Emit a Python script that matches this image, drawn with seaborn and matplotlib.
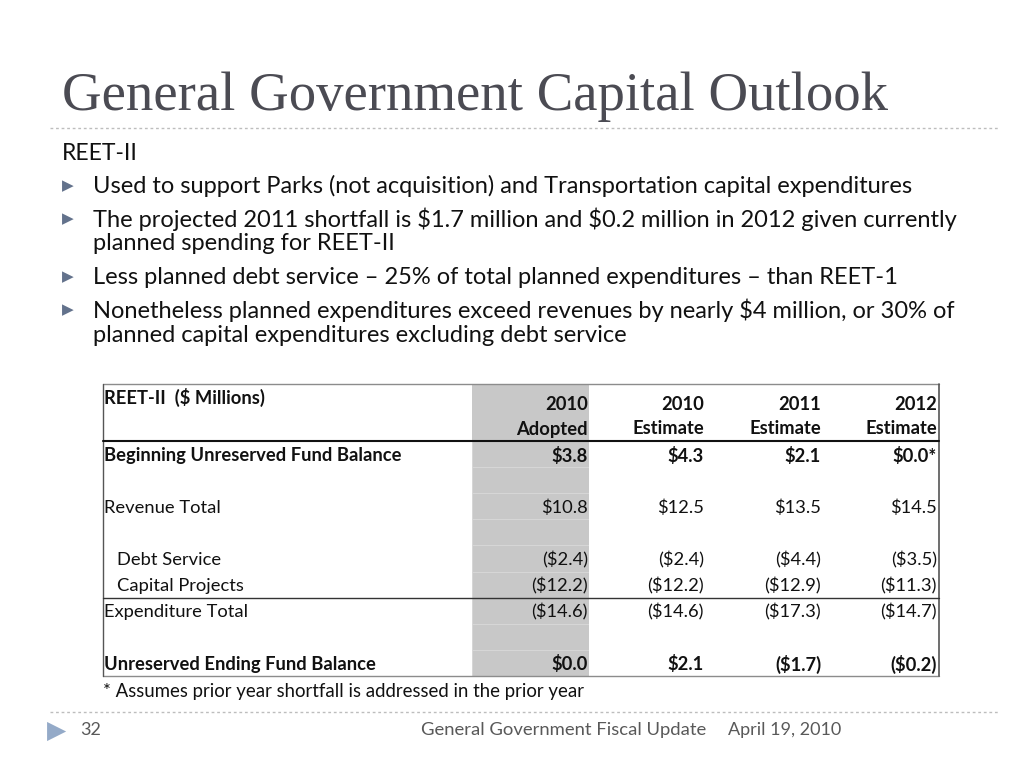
import numpy as np
import pandas as pd
import seaborn as sns
import matplotlib.pyplot as plt
from matplotlib.colors import ListedColormap
from matplotlib.patches import Rectangle

# slide text
title = "General Government Capital Outlook"
section = "REET-II"
bullets = [
    ["Used to support Parks (not acquisition) and Transportation capital expenditures"],
    ["The projected 2011 shortfall is $1.7 million and $0.2 million in 2012 given currently",
     "planned spending for REET-II"],
    ["Less planned debt service \u2013 25% of total planned expenditures \u2013 than REET-1"],
    ["Nonetheless planned expenditures exceed revenues by nearly $4 million, or 30% of",
     "planned capital expenditures excluding debt service"],
]

# table data ($ millions)
table_title = "REET-II  ($ Millions)"
col_years = ["2010", "2010", "2011", "2012"]
col_kinds = ["Adopted", "Estimate", "Estimate", "Estimate"]
beginning = [3.8, 4.3, 2.1, 0.0]
revenue = [10.8, 12.5, 13.5, 14.5]
debt_service = [-2.4, -2.4, -4.4, -3.5]
capital_projects = [-12.2, -12.2, -12.9, -11.3]
expenditure = [-14.6, -14.6, -17.3, -14.7]
ending = [0.0, 2.1, -1.7, -0.2]
footnote = "* Assumes prior year shortfall is addressed in the prior year"

footer_page = "32"
footer_text = "General Government Fiscal Update"
footer_date = "April 19, 2010"


def money(v):
    return f"(${abs(v):.1f})" if v < 0 else f"${v:.1f}"


rows = pd.DataFrame([
    ("Beginning Unreserved Fund Balance", [money(v) for v in beginning[:-1]] + [money(beginning[-1]) + "*"], True, 0),
    ("", [""] * 4, False, 0),
    ("Revenue Total", [money(v) for v in revenue], False, 0),
    ("", [""] * 4, False, 0),
    ("Debt Service", [money(v) for v in debt_service], False, 1),
    ("Capital Projects", [money(v) for v in capital_projects], False, 1),
    ("Expenditure Total", [money(v) for v in expenditure], False, 0),
    ("", [""] * 4, False, 0),
    ("Unreserved Ending Fund Balance", [money(v) for v in ending], True, 0),
], columns=["label", "values", "bold", "indent"])

sns.set_theme(style="white")
body_font = ["Lato", "DejaVu Sans"]
table_font = ["Lato", "DejaVu Sans"]
tsize = 13.2

fig = plt.figure(figsize=(10.24, 7.68), dpi=100)
ax = fig.add_axes([0, 0, 1, 1])
ax.set_xlim(0, 1024)
ax.set_ylim(768, 0)
ax.axis("off")


def txt(x, y, s, **kw):
    kw.setdefault("va", "center")
    kw.setdefault("color", "#111111")
    return ax.text(x, y, s, parse_math=False, **kw)


# title and separators
txt(62, 97, title, family=["Liberation Serif"], fontsize=39.4, color="#4b4b53")
for yy in (128, 712):
    ax.plot([50, 1000], [yy, yy], color="#bdbdbd", lw=1, ls=(0, (2, 2)))

# bullets
txt(62, 153, section, family=body_font, fontsize=16.5)
y = 186
for b in bullets:
    txt(68, y, "\u25B6", family=["DejaVu Sans"], fontsize=11, color="#63728c", ha="center")
    for k, line in enumerate(b):
        txt(93, y, line, family=body_font, fontsize=17)
        y += 25 if k < len(b) - 1 else 0
    y += 33

# table geometry (pixels)
tx0, tx1 = 103, 939
ty0, thead, ty1 = 384, 441, 676
row_h = (ty1 - thead) / len(rows)
grey_x0, grey_x1 = 472, 589
col_right = [588, 704, 821, 937]

# grey "Adopted" column drawn as a seaborn heatmap
gax = fig.add_axes([grey_x0 / 1024, 1 - ty1 / 768, (grey_x1 - grey_x0) / 1024, (ty1 - thead) / 768])
sns.heatmap(np.zeros((len(rows), 1)), cmap=ListedColormap(["#c8c8c8"]), cbar=False,
            linewidths=0.5, linecolor="#d6d6d6", ax=gax, xticklabels=False, yticklabels=False)
gax.set_zorder(0)
ax.set_zorder(1)
ax.patch.set_visible(False)
ax.add_patch(Rectangle((grey_x0, ty0), grey_x1 - grey_x0, thead - ty0, color="#c8c8c8", lw=0))

# borders
ax.plot([tx0, tx1], [ty0, ty0], color="#8c8c8c", lw=1)
ax.plot([tx0, tx1], [ty1, ty1], color="#8c8c8c", lw=1)
ax.plot([tx0, tx0], [ty0, ty1], color="#555555", lw=1)
ax.plot([tx1, tx1], [ty0, ty1], color="#555555", lw=1.2)
ax.plot([tx0, tx1], [thead, thead], color="#111111", lw=1.5)
sep_y = thead + 6 * row_h
ax.plot([tx0, tx1], [sep_y, sep_y], color="#333333", lw=1)

# header
txt(tx0 + 1, 397, table_title, family=table_font, fontsize=tsize, weight="bold")
for xr, yr, kind in zip(col_right, col_years, col_kinds):
    txt(xr, 405, yr, family=table_font, fontsize=tsize, weight="bold", ha="right")
    txt(xr, 429, kind, family=table_font, fontsize=tsize, weight="bold", ha="right")

# body rows
for i, r in rows.iterrows():
    yc = thead + 1.5 + (i + 0.5) * row_h
    w = "bold" if r["bold"] else "normal"
    txt(tx0 + 1 + 13 * r["indent"], yc, r["label"], family=table_font, fontsize=tsize, weight=w)
    for xr, v in zip(col_right, r["values"]):
        txt(xr, yc, v, family=table_font, fontsize=tsize, weight=w, ha="right")

txt(tx0, 692, footnote, family=table_font, fontsize=13.4)

# footer
txt(57, 731, "\u25B6", family=["DejaVu Sans"], fontsize=18, color="#94aac8", ha="center")
txt(80, 730, footer_page, family=body_font, fontsize=13, color="#595959")
txt(706, 730, footer_text, family=body_font, fontsize=13.3, color="#595959", ha="right")
txt(728, 730, footer_date, family=body_font, fontsize=13, color="#595959")

fig.savefig("out.png", dpi=100)
